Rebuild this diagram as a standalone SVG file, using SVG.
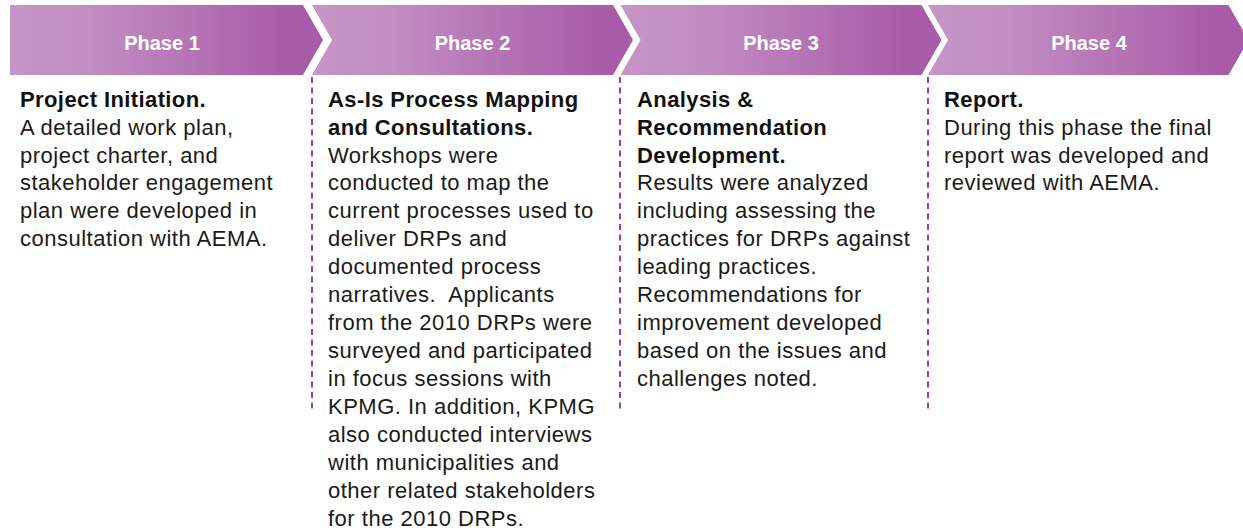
<svg xmlns="http://www.w3.org/2000/svg" width="1243" height="531" viewBox="0 0 1243 531">
<defs>
<linearGradient id="g" x1="0" y1="0" x2="1" y2="0">
<stop offset="0" stop-color="#C794C7"/>
<stop offset="0.22" stop-color="#C38FC3"/>
<stop offset="0.88" stop-color="#A95DA9"/>
<stop offset="1" stop-color="#A85BA8"/>
</linearGradient>
</defs>
<style>
.chev{fill:url(#g);}
.hd{font-family:"Liberation Sans",Arial,sans-serif;font-size:20px;font-weight:bold;fill:#ffffff;text-anchor:middle;}
.tt{font-family:"Liberation Sans",Arial,sans-serif;font-size:22px;font-weight:bold;fill:#111111;letter-spacing:0.4px;}
.bd{font-family:"Liberation Sans",Arial,sans-serif;font-size:22px;fill:#1a1a1a;letter-spacing:0.5px;}
.dv{stroke:#9E3C9F;stroke-width:2;stroke-dasharray:6 4.5;fill:none;}
</style>
<g id="phase1">
<polygon class="chev" points="10,5 303,5 323,40 303,75 10,75"/>
<text class="hd" x="162" y="50">Phase 1</text>
<text x="20" y="106.7">
<tspan class="tt" x="20">Project Initiation.</tspan>
<tspan class="bd" x="20" dy="27.93">A detailed work plan,</tspan>
<tspan class="bd" x="20" dy="27.93">project charter, and</tspan>
<tspan class="bd" x="20" dy="27.93">stakeholder engagement</tspan>
<tspan class="bd" x="20" dy="27.93">plan were developed in</tspan>
<tspan class="bd" x="20" dy="27.93">consultation with AEMA.</tspan>
</text>
</g>
<g id="phase2">
<polygon class="chev" points="312,5 613,5 633,40 613,75 312,75 332,40"/>
<text class="hd" x="472.5" y="50">Phase 2</text>
<text x="328" y="106.7">
<tspan class="tt" x="328">As-Is Process Mapping</tspan>
<tspan class="tt" x="328" dy="27.93">and Consultations.</tspan>
<tspan class="bd" x="328" dy="27.93">Workshops were</tspan>
<tspan class="bd" x="328" dy="27.93">conducted to map the</tspan>
<tspan class="bd" x="328" dy="27.93">current processes used to</tspan>
<tspan class="bd" x="328" dy="27.93">deliver DRPs and</tspan>
<tspan class="bd" x="328" dy="27.93">documented process</tspan>
<tspan class="bd" x="328" dy="27.93">narratives.&#160; Applicants</tspan>
<tspan class="bd" x="328" dy="27.93">from the 2010 DRPs were</tspan>
<tspan class="bd" x="328" dy="27.93">surveyed and participated</tspan>
<tspan class="bd" x="328" dy="27.93">in focus sessions with</tspan>
<tspan class="bd" x="328" dy="27.93">KPMG. In addition, KPMG</tspan>
<tspan class="bd" x="328" dy="27.93">also conducted interviews</tspan>
<tspan class="bd" x="328" dy="27.93">with municipalities and</tspan>
<tspan class="bd" x="328" dy="27.93">other related stakeholders</tspan>
<tspan class="bd" x="328" dy="27.93">for the 2010 DRPs.</tspan>
</text>
</g>
<g id="phase3">
<polygon class="chev" points="620.5,5 921.5,5 941.5,40 921.5,75 620.5,75 640.5,40"/>
<text class="hd" x="781" y="50">Phase 3</text>
<text x="637" y="106.7">
<tspan class="tt" x="637">Analysis &amp;</tspan>
<tspan class="tt" x="637" dy="27.93">Recommendation</tspan>
<tspan class="tt" x="637" dy="27.93">Development.</tspan>
<tspan class="bd" x="637" dy="27.93">Results were analyzed</tspan>
<tspan class="bd" x="637" dy="27.93">including assessing the</tspan>
<tspan class="bd" x="637" dy="27.93">practices for DRPs against</tspan>
<tspan class="bd" x="637" dy="27.93">leading practices.</tspan>
<tspan class="bd" x="637" dy="27.93">Recommendations for</tspan>
<tspan class="bd" x="637" dy="27.93">improvement developed</tspan>
<tspan class="bd" x="637" dy="27.93">based on the issues and</tspan>
<tspan class="bd" x="637" dy="27.93">challenges noted.</tspan>
</text>
</g>
<g id="phase4">
<polygon class="chev" points="928,5 1228.5,5 1248.5,40 1228.5,75 928,75 948,40"/>
<text class="hd" x="1089" y="50">Phase 4</text>
<text x="944" y="106.7">
<tspan class="tt" x="944">Report.</tspan>
<tspan class="bd" x="944" dy="27.93">During this phase the final</tspan>
<tspan class="bd" x="944" dy="27.93">report was developed and</tspan>
<tspan class="bd" x="944" dy="27.93">reviewed with AEMA.</tspan>
</text>
</g>
<g id="connectors">
<line class="dv" x1="312" y1="77" x2="312" y2="412"/>
<line class="dv" x1="620" y1="77" x2="620" y2="412"/>
<line class="dv" x1="928" y1="77" x2="928" y2="412"/>
</g>
</svg>
